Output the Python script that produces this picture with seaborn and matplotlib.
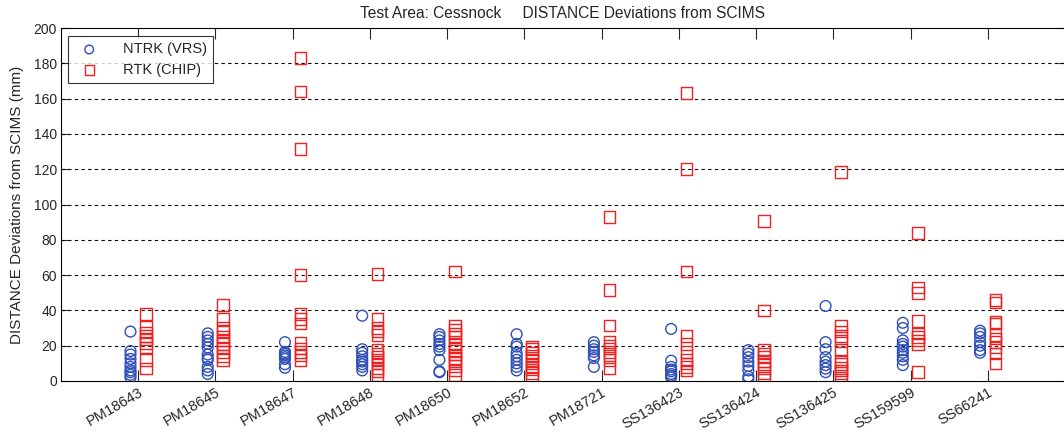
import numpy as np
import pandas as pd
import matplotlib
matplotlib.use("Agg")
import matplotlib.pyplot as plt
import seaborn as sns

stations = ["PM18643", "PM18645", "PM18647", "PM18648", "PM18650", "PM18652",
            "PM18721", "SS136423", "SS136424", "SS136425", "SS159599", "SS66241"]

ntrk_vrs = [
    [28, 17, 15, 12.5, 10, 8, 6, 5, 3.5, 2],
    [27, 25, 23, 21, 19, 15, 13, 12, 8, 6, 4],
    [22, 16.5, 15.5, 14.5, 13.5, 12.5, 9.5, 7.5],
    [37, 18, 16, 14, 12, 11, 9.5, 8, 6],
    [26.5, 25, 23, 21, 19.5, 17.5, 12, 5.5, 5],
    [26.5, 21, 19.5, 16, 14, 12, 10, 8, 6],
    [22, 20, 18, 16.5, 14.5, 13, 8],
    [29.5, 11.5, 8, 6.5, 5.5, 4, 3, 2],
    [17.5, 15.5, 13.5, 11, 8.5, 6, 2.5, 1],
    [42.5, 22, 18, 13.5, 11, 9, 7, 5],
    [33, 30, 23, 21, 19.5, 17.5, 16, 14, 12, 9],
    [28.5, 27, 25, 22, 20, 17.5, 16],
]

rtk_chip = [
    [38, 30.5, 27.5, 25.5, 23.5, 21.5, 19, 12, 7],
    [43, 35, 30, 28, 25, 23, 21, 19, 16.5, 14, 12],
    [183, 164, 131.5, 60, 38, 35, 32.5, 21.5, 18.5, 16.5, 14.5, 12],
    [60.5, 35, 30, 28, 26, 17.5, 15.5, 13.5, 12, 10, 7.5, 5.5, 3.5],
    [62, 31.5, 29, 27, 25, 21, 19, 17, 15, 13, 11, 8.5, 6, 3.5],
    [19.5, 18, 16, 14, 12, 10, 8, 6.5, 4.5, 2],
    [93, 51.5, 31.5, 22, 20, 18.5, 16.5, 14.5, 12, 7],
    [163, 120, 62, 25.5, 21, 16.5, 12, 10, 8, 6],
    [90.5, 40, 17.5, 15.5, 13.5, 11.5, 9.5, 7.5, 4.5, 2],
    [118.5, 31, 28, 25.5, 22.5, 17.5, 11.5, 9.5, 7.5, 6, 4.5, 2],
    [84, 53, 50, 34, 27, 25, 23, 21, 5],
    [46, 44.5, 33.5, 32.5, 26, 24, 22, 19, 15.5, 10],
]

series_labels = ["NTRK (VRS)", "RTK (CHIP)"]
title_text = "Test Area: Cessnock     DISTANCE Deviations from SCIMS"
ylabel_text = "DISTANCE Deviations from SCIMS (mm)"
yticks = list(range(0, 201, 20))

rows = []
for i, st in enumerate(stations):
    for v in ntrk_vrs[i]:
        rows.append((st, i + 1, series_labels[0], v))
    for v in rtk_chip[i]:
        rows.append((st, i + 1, series_labels[1], v))
df = pd.DataFrame(rows, columns=["station", "pos", "method", "value"])
offsets = {series_labels[0]: -0.1, series_labels[1]: 0.1}
df["x"] = df["pos"] + df["method"].map(offsets)

sns.set_style("white")
plt.rcParams["font.family"] = ["Liberation Sans", "DejaVu Sans"]

fig = plt.figure(figsize=(10.64, 4.32), dpi=100)
ax = fig.add_axes([61 / 1064, 51 / 432, 1004 / 1064, 353 / 432])

blue = "#3050b8"
red = "#f02020"
d1 = df[df["method"] == series_labels[0]]
d2 = df[df["method"] == series_labels[1]]
sns.scatterplot(data=d1, x="x", y="value", ax=ax, marker="o", s=60,
                color=blue, facecolors="none", edgecolor=blue, linewidth=1.0,
                label=series_labels[0], zorder=3)
sns.scatterplot(data=d2, x="x", y="value", ax=ax, marker="s", s=70,
                color=red, facecolors="none", edgecolor=red, linewidth=1.0,
                label=series_labels[1], zorder=3)

ax.set_xlim(0, 13)
ax.set_ylim(0, 200)
ax.set_xticks(range(1, len(stations) + 1))
ax.set_xticklabels(stations, rotation=30, ha="right", rotation_mode="anchor", fontsize=10.5)
ax.set_yticks(yticks)
ax.set_yticklabels([str(t) for t in yticks], fontsize=10)
ax.set_xlabel("")
ax.set_ylabel(ylabel_text, fontsize=11, labelpad=7)
ax.set_title(title_text, fontsize=11.2, pad=7)

for y in yticks[1:-1]:
    ax.axhline(y, color="black", linestyle=(0, (3, 3)), linewidth=0.8, zorder=1)

ax.tick_params(axis="x", direction="in", length=8, width=0.8, top=True, bottom=True, pad=3)
ax.tick_params(axis="y", direction="in", length=5, width=0.8, left=True, right=True, pad=3)
for sp in ax.spines.values():
    sp.set_color("black")
    sp.set_linewidth(0.8)

leg = ax.legend(loc="upper left", bbox_to_anchor=(0.007, 0.978), frameon=True,
                fancybox=False, edgecolor="black", fontsize=10.5, markerscale=0.8,
                handletextpad=1.3, borderpad=0.45, labelspacing=0.45, borderaxespad=0)
leg.get_frame().set_linewidth(0.8)

fig.savefig("out.png", dpi=100)
